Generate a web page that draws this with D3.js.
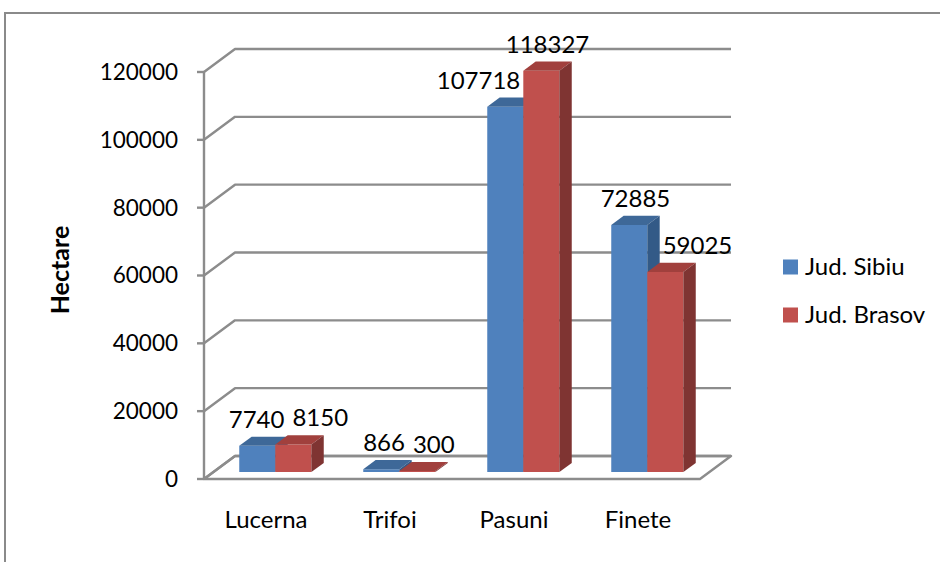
<!DOCTYPE html>
<html>
<head>
<meta charset="utf-8">
<script src="https://cdn.jsdelivr.net/npm/d3@7"></script>
<style>
  body { margin: 0; background: #fff; }
  svg text { font-family: Lato, "Open Sans", sans-serif; fill: #000; }
</style>
</head>
<body>
<svg id="chart" width="940" height="562"></svg>
<script>
const categories = ['Lucerna', 'Trifoi', 'Pasuni', 'Finete'];
const seriesNames = ['Jud. Sibiu', 'Jud. Brasov'];
const sibiu = [7740, 866, 107718, 72885];
const brasov = [8150, 300, 118327, 59025];
const yTicks = [0, 20000, 40000, 60000, 80000, 100000, 120000];

const colors = {
  'Jud. Sibiu': {front: '#4f81bd', top: '#3e6898', side: '#335a87'},
  'Jud. Brasov': {front: '#c0504d', top: '#a1403d', side: '#7f3432'}
};

const plot = {left: 204, right: 700, bottom: 479, top: 72};
// depth of the 3d box (offset of the back wall)
const depth = {x: 31, y: -23};
const barDepth = [0.3, 0.7];
const tickFont = 22.5;
const fontSize = 24;
const gridColor = '#8c8c8c';

const svg = d3.select('#chart');

// outer frame
svg.append('path')
    .attr('d', 'M5,562 L5,13 L940,13')
    .attr('fill', 'none')
    .attr('stroke', '#8a8a8a')
    .attr('stroke-width', 2);

const x = d3.scaleBand()
    .domain(categories)
    .range([plot.left, plot.right]);

const xSeries = d3.scaleBand()
    .domain(seriesNames)
    .range([0, x.bandwidth()])
    .paddingOuter(0.72);

const y = d3.scaleLinear()
    .domain([0, 120000])
    .range([plot.bottom, plot.top]);

const proj = (px, py, d) => [px + d * depth.x, py + d * depth.y];
const line = d3.line();

const g = svg.append('g');

// floor
const floor = [
  proj(plot.left, plot.bottom, 0), proj(plot.right, plot.bottom, 0),
  proj(plot.right, plot.bottom, 1), proj(plot.left, plot.bottom, 1)
];
g.append('path')
    .attr('d', line(floor) + 'Z')
    .attr('fill', 'none')
    .attr('stroke', gridColor)
    .attr('stroke-width', 2.4)
    .attr('stroke-linejoin', 'round');

// side + back wall gridlines
g.selectAll('.grid')
    .data(yTicks)
    .join('path')
    .attr('class', 'grid')
    .attr('d', t => line([
        proj(plot.left, y(t), 0),
        proj(plot.left, y(t), 1),
        proj(plot.right, y(t), 1)
    ]))
    .attr('fill', 'none')
    .attr('stroke', gridColor)
    .attr('stroke-width', 2.4)
    .attr('stroke-linejoin', 'round');

// value axis line and ticks
g.append('line')
    .attr('x1', plot.left).attr('x2', plot.left)
    .attr('y1', y(120000)).attr('y2', plot.bottom)
    .attr('stroke', gridColor)
    .attr('stroke-width', 2.4);

g.selectAll('.tick')
    .data(yTicks)
    .join('line')
    .attr('class', 'tick')
    .attr('x1', plot.left - 7).attr('x2', plot.left)
    .attr('y1', t => y(t)).attr('y2', t => y(t))
    .attr('stroke', gridColor)
    .attr('stroke-width', 2.4);

g.selectAll('.ylabel')
    .data(yTicks)
    .join('text')
    .attr('class', 'ylabel')
    .attr('x', 178)
    .attr('y', t => y(t))
    .attr('dy', '0.35em')
    .attr('text-anchor', 'end')
    .style('font-size', tickFont + 'px')
    .text(t => t);

// axis title
svg.append('text')
    .attr('transform', 'translate(69,270) rotate(-90)')
    .attr('text-anchor', 'middle')
    .style('font-size', '25px')
    .style('font-weight', 'bold')
    .text('Hectare');

// category labels
g.selectAll('.xlabel')
    .data(categories)
    .join('text')
    .attr('class', 'xlabel')
    .attr('x', c => x(c) + x.bandwidth() / 2)
    .attr('y', 528)
    .attr('text-anchor', 'middle')
    .style('font-size', fontSize + 'px')
    .text(c => c);

// bars
const bars = [];
categories.forEach((c, i) => {
  [sibiu[i], brasov[i]].forEach((v, s) => {
    const name = seriesNames[s];
    const x0 = x(c) + xSeries(name);
    const x1 = x0 + xSeries.bandwidth();
    bars.push({cat: c, series: name, value: v, x0, x1, yTop: y(v)});
  });
});

const barG = g.selectAll('.bar')
    .data(bars)
    .join('g')
    .attr('class', 'bar');

barG.append('path')
    .attr('d', b => line([
        proj(b.x0, plot.bottom, barDepth[0]), proj(b.x1, plot.bottom, barDepth[0]),
        proj(b.x1, b.yTop, barDepth[0]), proj(b.x0, b.yTop, barDepth[0])
    ]) + 'Z')
    .attr('fill', b => colors[b.series].front);

barG.append('path')
    .attr('d', b => line([
        proj(b.x0, b.yTop, barDepth[0]), proj(b.x1, b.yTop, barDepth[0]),
        proj(b.x1, b.yTop, barDepth[1]), proj(b.x0, b.yTop, barDepth[1])
    ]) + 'Z')
    .attr('fill', b => colors[b.series].top);

barG.append('path')
    .attr('d', b => line([
        proj(b.x1, plot.bottom, barDepth[0]), proj(b.x1, plot.bottom, barDepth[1]),
        proj(b.x1, b.yTop, barDepth[1]), proj(b.x1, b.yTop, barDepth[0])
    ]) + 'Z')
    .attr('fill', b => colors[b.series].side);

// data labels, placed above the bar top and nudged off neighbours
const labels = g.selectAll('.dlabel')
    .data(bars)
    .join('text')
    .attr('class', 'dlabel')
    .attr('text-anchor', 'start')
    .style('font-size', fontSize + 'px')
    .text(b => b.value);

labels.each(function(b) {
  const w = this.getComputedTextLength();
  const mid = (barDepth[0] + barDepth[1]) / 2;
  const [cx] = proj((b.x0 + b.x1) / 2, b.yTop, mid);
  const [, backTop] = proj(b.x0, b.yTop, barDepth[1]);
  b.lw = w;
  b.lx = cx - w / 2;
  b.ly = backTop - 9;
});

categories.forEach(c => {
  const [lb, rb] = bars.filter(b => b.cat === c);
  const h = fontSize * 0.75;
  // blue label sitting beside a taller red bar
  if (lb.ly > proj(0, rb.yTop, barDepth[1])[1] && lb.lx + lb.lw > proj(rb.x0, 0, barDepth[0])[0]) {
    lb.lx = proj(rb.x0, 0, barDepth[0])[0] - 3 - lb.lw;
  }
  // red label sitting beside a taller blue bar
  const blueBack = proj(lb.x1, 0, barDepth[1])[0];
  if (rb.ly > proj(0, lb.yTop, barDepth[1])[1] && rb.lx < blueBack) {
    rb.lx = blueBack + 3;
  }
  // labels overlapping each other
  if (Math.abs(lb.ly - rb.ly) < h && rb.lx < lb.lx + lb.lw + 8) {
    const shift = lb.lx + lb.lw + 8 - rb.lx;
    lb.lx -= shift * 0.25;
    rb.lx += shift * 0.75;
  }
});

labels
    .attr('x', b => b.lx)
    .attr('y', b => b.ly);

// legend
const legend = svg.append('g')
    .selectAll('g')
    .data(seriesNames)
    .join('g')
    .attr('transform', (d, i) => `translate(783,${267 + i * 48})`);

legend.append('rect')
    .attr('x', 0).attr('y', -7.5)
    .attr('width', 15).attr('height', 15)
    .attr('fill', d => colors[d].front);

legend.append('text')
    .attr('x', 22)
    .attr('dy', '0.35em')
    .style('font-size', fontSize + 'px')
    .text(d => d);
</script>
</body>
</html>
